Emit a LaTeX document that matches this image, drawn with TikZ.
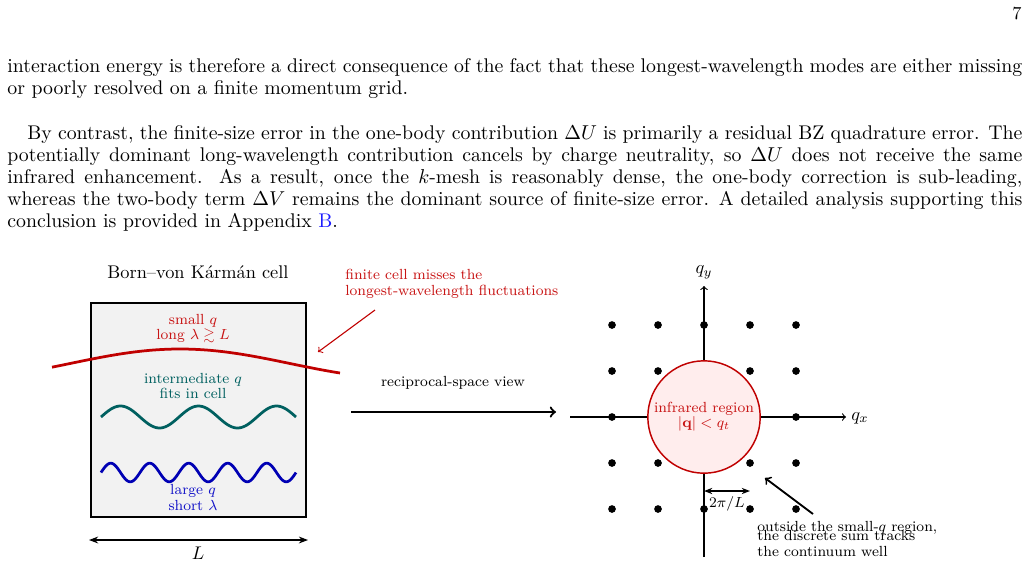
\documentclass[tikz,border=0pt]{standalone}
\usepackage{amsmath,amssymb}
\usetikzlibrary{arrows.meta}
\definecolor{cred}{RGB}{192,0,0}
\definecolor{credtext}{RGB}{200,20,20}
\definecolor{cteal}{RGB}{0,96,96}
\definecolor{cblue}{RGB}{0,0,180}
\definecolor{cbluetext}{RGB}{20,20,200}
\definecolor{linkblue}{RGB}{30,30,255}
\begin{document}
\begin{tikzpicture}[x=0.5455pt, y=-0.5455pt,
  body/.style={anchor=base west, text width=553.7pt, align=justify, inner sep=0pt, font=\fontsize{10.8}{12}\selectfont},
  lab/.style={inner sep=0pt, font=\fontsize{8}{8.2}\selectfont, align=center},
  wave/.style={line width=1.5pt},
  axis/.style={semithick, -to},
  dot/.style={circle, fill=black, inner sep=0pt, minimum size=4.2pt}]
\useasboundingbox (0,0) rectangle (1029,565);

% ---- page text ----
\node[anchor=base east, inner sep=0pt] (pg) at (1022,19) {7};
\node[body] (p1) at (7,72.5) {interaction energy is therefore a direct consequence of the fact that these longest-wavelength modes are either missing\linebreak or poorly resolved on a finite momentum grid.};
\node[body] (p2) at (7,139.3) {\hspace*{10.9pt}By contrast, the finite-size error in the one-body contribution $\Delta U$ is primarily a residual BZ quadrature error. The\linebreak potentially dominant long-wavelength contribution cancels by charge neutrality, so $\Delta U$ does not receive the same\linebreak infrared enhancement. As a result, once the $k$-mesh is reasonably dense, the one-body correction is sub-leading,\linebreak whereas the two-body term $\Delta V$ remains the dominant source of finite-size error. A detailed analysis supporting this\linebreak conclusion is provided in Appendix \textcolor{linkblue}{B}.};

% ---- real-space cell ----
\node[anchor=base, inner sep=0pt] (title) at (198,278.3) {Born--von K\'arm\'an cell};
\draw[semithick, fill=black!5] (91,303) rectangle (306,517);
\draw[wave, cred] plot[domain=52:340, samples=90, variable=\t] (\t, {363.5-14.5*cos(0.8182*(\t-180))});
\draw[wave, cteal] plot[domain=101:296, samples=120, variable=\t] (\t, {417-11*sin(4.6154*(\t-101))});
\draw[wave, cblue] plot[domain=101:296, samples=200, variable=\t] (\t, {472.5-9.3*sin(9.2308*(\t-101))});
\node[lab, text=credtext, anchor=base] (lsmall) at (193,339.3) {small $q$\\long $\lambda\gtrsim L$};
\node[lab, text=cteal, anchor=base] (lmid) at (193,398.3) {intermediate $q$\\fits in cell};
\node[lab, text=cbluetext, anchor=base] (llarge) at (193,510) {large $q$\\short $\lambda$};
\coordinate (La) at (89,540);
\coordinate (Lb) at (308,540);
\draw[semithick, {Stealth[length=5pt]}-{Stealth[length=5pt]}] (La) -- (Lb);
\node[inner sep=0pt] (Llab) at (198,553.5) {$L$};

% ---- annotation ----
\node[lab, text=credtext, anchor=base west, align=left] (miss) at (345,295) {finite cell misses the\\longest-wavelength fluctuations};
\coordinate (ma) at (375,310);
\coordinate (mb) at (318,352);
\draw[semithick, cred, -to] (ma) -- (mb);

% ---- transfer arrow ----
\node[lab, anchor=base] (recip) at (453,386) {reciprocal-space view};
\coordinate (ra) at (351,412);
\coordinate (rb) at (556,412);
\draw[line width=1.2pt, -to] (ra) -- (rb);

% ---- reciprocal lattice ----
\coordinate (xl) at (570,417);
\coordinate (xr) at (846,417);
\coordinate (yb) at (704,557);
\coordinate (yt) at (704,286);
\draw[axis] (xl) -- (xr);
\draw[axis] (yb) -- (yt);
\node[inner sep=0pt] (qx) at (860,418) {$q_x$};
\node[inner sep=0pt] (qy) at (704,272.5) {$q_y$};
\foreach \i in {0,...,4}{
  \foreach \j in {0,...,4}{
    \node[dot] (d\i\j) at ({612+46*\i},{325+46*\j}) {};
  }
}
\node[circle, draw=cred, thick, fill=red!7, minimum size=61.3pt, inner sep=0pt, lab, text=credtext] (ir) at (704,417) {infrared region\\$|\mathbf{q}|<q_t$};
\coordinate (sa) at (704,491);
\coordinate (sb) at (750,491);
\draw[thick, {Stealth[length=4.5pt]}-{Stealth[length=4.5pt]}] (sa) -- (sb);
\node[lab, anchor=base] (step) at (727,507.3) {$2\pi/L$};
\coordinate (oa) at (813,514);
\coordinate (ob) at (765,478);
\draw[line width=1pt, -to] (oa) -- (ob);
\node[lab, anchor=base west] (o1) at (757,531.7) {outside the small-$q$ region,};
\node[lab, anchor=base west] (o2) at (757,540.7) {the discrete sum tracks};
\node[lab, anchor=base west] (o3) at (757,556.7) {the continuum well};
\end{tikzpicture}
\end{document}
